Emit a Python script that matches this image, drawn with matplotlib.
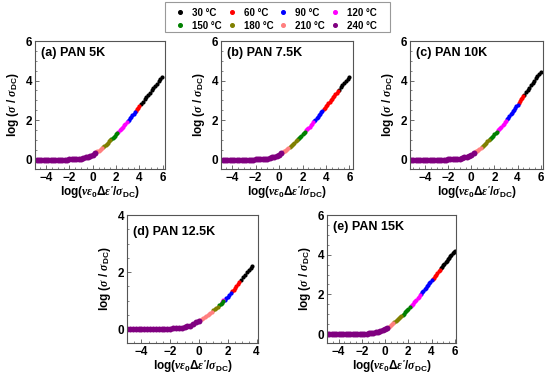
import matplotlib
matplotlib.use("Agg")
import matplotlib.pyplot as plt
from matplotlib.lines import Line2D
from matplotlib.patches import Rectangle
from matplotlib.ticker import MultipleLocator

plt.rcParams['font.family'] = ['Liberation Sans', 'DejaVu Sans']
plt.rcParams['font.weight'] = 'bold'
plt.rcParams['mathtext.fontset'] = 'custom'
plt.rcParams['mathtext.rm'] = 'Liberation Sans:bold'
plt.rcParams['mathtext.bf'] = 'Liberation Sans:bold'
plt.rcParams['mathtext.it'] = 'Liberation Serif:italic'

# ---------------- data ----------------
temps = ['30 °C', '60 °C', '90 °C', '120 °C', '150 °C', '180 °C', '210 °C', '240 °C']
colors = ['#000000', '#ff0000', '#0000ff', '#ff00ff', '#008000', '#808000', '#ff7f7f', '#800080']
titles = ['(a) PAN 5K', '(b) PAN 7.5K', '(c) PAN 10K', '(d) PAN 12.5K', '(e) PAN 15K']

# shared 240 °C plateau (panels a, b, c, e)
p_x = [-5.6, -5.4, -5.2, -5.0, -4.8, -4.6, -4.4, -4.2, -4.0, -3.8, -3.6, -3.4, -3.2, -3.0,
       -2.8, -2.6, -2.4, -2.2, -2.0, -1.8, -1.6, -1.4, -1.2, -1.0, -0.8, -0.6, -0.4, -0.2, 0.0, 0.2]
p_y = [0, 0, 0, 0, 0, 0, 0, 0, 0, 0, 0, 0, 0, 0,
       0, 0, 0, 0, 0.01, 0.01, 0.02, 0.03, 0.04, 0.05, 0.08, 0.11, 0.15, 0.20, 0.25, 0.33]

# panel (a) PAN 5K
a_x = {
    '30 °C': [4.15, 4.3, 4.45, 4.6, 4.75, 4.9, 5.05, 5.2, 5.35, 5.5, 5.65, 5.8, 5.95],
    '60 °C': [3.7, 3.8, 3.9, 4.0],
    '90 °C': [3.0, 3.1, 3.2, 3.3, 3.4, 3.5, 3.6],
    '120 °C': [2.2, 2.3, 2.4, 2.5, 2.6, 2.7, 2.8, 2.9],
    '150 °C': [1.6, 1.7, 1.8, 1.9, 2.0, 2.1],
    '180 °C': [0.9, 1.0, 1.1, 1.2, 1.3, 1.4, 1.5],
    '210 °C': [0.2, 0.3, 0.4, 0.5, 0.6, 0.7, 0.8],
    '240 °C': p_x,
}
a_y = {
    '30 °C': [2.81, 2.93, 3.04, 3.16, 3.27, 3.38, 3.50, 3.61, 3.73, 3.84, 3.95, 4.06, 4.17],
    '60 °C': [2.47, 2.55, 2.62, 2.70],
    '90 °C': [1.95, 2.02, 2.10, 2.17, 2.25, 2.32, 2.40],
    '120 °C': [1.40, 1.47, 1.53, 1.60, 1.67, 1.74, 1.81, 1.88],
    '150 °C': [1.03, 1.09, 1.15, 1.21, 1.27, 1.34],
    '180 °C': [0.65, 0.70, 0.75, 0.81, 0.86, 0.92, 0.97],
    '210 °C': [0.33, 0.37, 0.41, 0.45, 0.50, 0.55, 0.60],
    '240 °C': p_y,
}

# panel (b) PAN 7.5K
b_x = {
    '30 °C': [5.1, 5.25, 5.4, 5.55, 5.7, 5.85, 6.0],
    '60 °C': [3.8, 3.9, 4.0, 4.1, 4.2, 4.3, 4.4, 4.5, 4.6, 4.7, 4.8, 4.9, 5.0],
    '90 °C': [3.0, 3.1, 3.2, 3.3, 3.4, 3.5, 3.6, 3.7],
    '120 °C': [2.3, 2.4, 2.5, 2.6, 2.7, 2.8, 2.9],
    '150 °C': [1.6, 1.7, 1.8, 1.9, 2.0, 2.1, 2.2],
    '180 °C': [0.9, 1.0, 1.1, 1.2, 1.3, 1.4, 1.5],
    '210 °C': [0.2, 0.3, 0.4, 0.5, 0.6, 0.7, 0.8],
    '240 °C': p_x,
}
b_y = {
    '30 °C': [3.54, 3.65, 3.76, 3.88, 3.98, 4.09, 4.20],
    '60 °C': [2.55, 2.62, 2.70, 2.78, 2.85, 2.93, 3.00, 3.08, 3.16, 3.23, 3.31, 3.38, 3.46],
    '90 °C': [1.95, 2.02, 2.10, 2.17, 2.25, 2.32, 2.40, 2.47],
    '120 °C': [1.47, 1.53, 1.60, 1.67, 1.74, 1.81, 1.88],
    '150 °C': [1.03, 1.09, 1.15, 1.21, 1.27, 1.34, 1.40],
    '180 °C': [0.65, 0.70, 0.75, 0.81, 0.86, 0.92, 0.97],
    '210 °C': [0.33, 0.37, 0.41, 0.45, 0.50, 0.55, 0.60],
    '240 °C': p_y,
}

# panel (c) PAN 10K
c_x = {
    '30 °C': [4.6, 4.74, 4.88, 5.02, 5.16, 5.3, 5.44, 5.58, 5.72, 5.86, 6.0],
    '60 °C': [4.1, 4.2, 4.3, 4.4, 4.5],
    '90 °C': [3.1, 3.2, 3.3, 3.4, 3.5, 3.6, 3.7, 3.8, 3.9, 4.0],
    '120 °C': [2.3, 2.4, 2.5, 2.6, 2.7, 2.8, 2.9, 3.0],
    '150 °C': [1.6, 1.7, 1.8, 1.9, 2.0, 2.1, 2.2],
    '180 °C': [0.9, 1.0, 1.1, 1.2, 1.3, 1.4, 1.5],
    '210 °C': [0.2, 0.3, 0.4, 0.5, 0.6, 0.7, 0.8],
    '240 °C': p_x,
}
c_y = {
    '30 °C': [3.29, 3.40, 3.52, 3.64, 3.76, 3.88, 3.99, 4.11, 4.22, 4.34, 4.45],
    '60 °C': [2.87, 2.95, 3.04, 3.12, 3.21],
    '90 °C': [2.03, 2.12, 2.20, 2.28, 2.36, 2.45, 2.53, 2.62, 2.70, 2.78],
    '120 °C': [1.47, 1.53, 1.60, 1.67, 1.74, 1.81, 1.88, 1.95],
    '150 °C': [1.03, 1.09, 1.15, 1.21, 1.27, 1.34, 1.40],
    '180 °C': [0.65, 0.70, 0.75, 0.81, 0.86, 0.92, 0.97],
    '210 °C': [0.33, 0.37, 0.41, 0.45, 0.50, 0.55, 0.60],
    '240 °C': p_y,
}

# panel (d) PAN 12.5K
d_x = {
    '30 °C': [2.93, 3.06, 3.19, 3.32, 3.45, 3.58, 3.71],
    '60 °C': [2.3, 2.4, 2.5, 2.6, 2.7, 2.8],
    '90 °C': [1.8, 1.9, 2.0, 2.1, 2.2],
    '120 °C': [1.6, 1.7],
    '150 °C': [1.4, 1.5, 1.6, 1.7],
    '180 °C': [1.0, 1.1, 1.2, 1.3],
    '210 °C': [0.1, 0.2, 0.3, 0.4, 0.5, 0.6, 0.7, 0.8, 0.9],
    '240 °C': [-5.4, -5.2, -5.0, -4.8, -4.6, -4.4, -4.2, -4.0, -3.8, -3.6, -3.4, -3.2, -3.0,
               -2.8, -2.6, -2.4, -2.2, -2.0, -1.8, -1.6, -1.4, -1.2, -1.0, -0.8, -0.6,
               -0.4, -0.2, 0.0],
}
d_y = {
    '30 °C': [1.74, 1.83, 1.91, 1.99, 2.07, 2.15, 2.23],
    '60 °C': [1.33, 1.39, 1.45, 1.52, 1.59, 1.65],
    '90 °C': [1.03, 1.09, 1.14, 1.20, 1.26],
    '120 °C': [0.96, 1.01],
    '150 °C': [0.84, 0.88, 0.93, 0.98],
    '180 °C': [0.66, 0.70, 0.75, 0.79],
    '210 °C': [0.33, 0.36, 0.40, 0.43, 0.46, 0.50, 0.54, 0.58, 0.62],
    '240 °C': [0, 0, 0, 0, 0, 0, 0, 0, 0, 0, 0, 0, 0,
               0, 0, 0, 0.01, 0.02, 0.03, 0.04, 0.05, 0.06, 0.07, 0.10, 0.13,
               0.18, 0.24, 0.30],
}

# panel (e) PAN 15K
e_x = {
    '30 °C': [4.8, 4.9, 5.0, 5.1, 5.2, 5.3, 5.4, 5.5, 5.6, 5.7, 5.8, 5.9, 6.0],
    '60 °C': [4.1, 4.2, 4.3, 4.4, 4.5, 4.6, 4.7],
    '90 °C': [3.1, 3.2, 3.3, 3.4, 3.5, 3.6, 3.7, 3.8, 3.9, 4.0],
    '120 °C': [2.2, 2.3, 2.4, 2.5, 2.6, 2.7, 2.8, 2.9, 3.0],
    '150 °C': [1.5, 1.6, 1.7, 1.8, 1.9, 2.0, 2.1],
    '180 °C': [0.8, 0.9, 1.0, 1.1, 1.2, 1.3, 1.4],
    '210 °C': [0.2, 0.3, 0.4, 0.5, 0.6, 0.7],
    '240 °C': p_x,
}
e_y = {
    '30 °C': [3.31, 3.38, 3.46, 3.54, 3.61, 3.69, 3.76, 3.84, 3.91, 3.98, 4.06, 4.13, 4.20],
    '60 °C': [2.78, 2.85, 2.93, 3.00, 3.08, 3.16, 3.23],
    '90 °C': [2.02, 2.10, 2.17, 2.25, 2.32, 2.40, 2.47, 2.55, 2.62, 2.70],
    '120 °C': [1.40, 1.47, 1.53, 1.60, 1.67, 1.74, 1.81, 1.88, 1.95],
    '150 °C': [0.97, 1.03, 1.09, 1.15, 1.21, 1.27, 1.34],
    '180 °C': [0.60, 0.65, 0.70, 0.75, 0.81, 0.86, 0.92],
    '210 °C': [0.33, 0.37, 0.41, 0.45, 0.50, 0.55],
    '240 °C': p_y,
}

panels_x = [a_x, b_x, c_x, d_x, e_x]
panels_y = [a_y, b_y, c_y, d_y, e_y]
xlims = [(-4.95, 6.2), (-4.95, 6.3), (-5.3, 6.2), (-5.0, 4.1), (-5.0, 6.1)]
ylims = [(-0.48, 6), (-0.48, 6), (-0.48, 6), (-0.48, 4), (-0.45, 6)]
title_y = [0.91, 0.91, 0.91, 0.87, 0.91]

# ---------------- layout ----------------
W, H = 550, 374
fig = plt.figure(figsize=(W / 100, H / 100), dpi=100)
boxes = [(35, 41, 165, 169), (221, 41, 353, 169), (410, 41, 543, 169),
         (127, 215, 258, 343), (327, 215, 456, 343)]

xlabel = r'log($\nu\varepsilon_0\Delta\varepsilon^{\prime}/\sigma_{\rm DC}$)'
ylabel = r'log ($\sigma$ / $\sigma_{\rm DC}$)'
spine_col = '#555555'

for i, (l, t, r, b) in enumerate(boxes):
    ax = fig.add_axes([l / W, 1 - b / H, (r - l) / W, (b - t) / H])
    for temp, col in zip(temps, colors):
        ms = 4.3 if temp == '240 °C' else 3.0
        ax.plot(panels_x[i][temp], panels_y[i][temp], 'o', color=col, ms=ms,
                mec='none', linestyle='none')
    ax.set_xlim(*xlims[i])
    ax.set_ylim(*ylims[i])
    ax.xaxis.set_major_locator(MultipleLocator(2))
    ax.xaxis.set_minor_locator(MultipleLocator(0.5))
    ax.yaxis.set_major_locator(MultipleLocator(2))
    ax.yaxis.set_minor_locator(MultipleLocator(0.5))
    ax.tick_params(which='both', direction='in', color=spine_col, labelsize=8.5, pad=2)
    ax.tick_params(which='major', length=3, width=0.6)
    ax.tick_params(which='minor', length=1.5, width=0.5)
    for sp in ax.spines.values():
        sp.set_color(spine_col)
        sp.set_linewidth(0.8)
    for lab in ax.get_xticklabels() + ax.get_yticklabels():
        lab.set_fontweight('bold')
    ax.set_xlabel(xlabel, fontsize=8.5, fontweight='bold', labelpad=0)
    ax.set_ylabel(ylabel, fontsize=8.5, fontweight='bold', labelpad=3)
    ax.text(0.045, title_y[i], titles[i], transform=ax.transAxes, fontsize=9,
            fontweight='bold', va='center', ha='left')

# legend frame drawn separately (wide side padding, tight vertical padding)
fig.patches.append(Rectangle((165 / W, 1 - 32 / H), 225 / W, 30 / H,
                             transform=fig.transFigure, fill=False,
                             edgecolor='#999999', linewidth=0.8))

# legend (row-wise order)
handles = [Line2D([], [], marker='o', color=c, ms=2.6, linestyle='none') for c in colors]
order = [0, 4, 1, 5, 2, 6, 3, 7]
leg = fig.legend([handles[k] for k in order], [temps[k] for k in order], ncol=4,
                 loc='center left', bbox_to_anchor=(173.5 / W, 1 - 19.3 / H), frameon=False,
                 handlelength=1.4, handletextpad=0.55, columnspacing=0.3,
                 labelspacing=0.3, borderpad=0.0, borderaxespad=0.0,
                 prop={'weight': 'bold', 'size': 7})

fig.savefig('out.png', dpi=100)
